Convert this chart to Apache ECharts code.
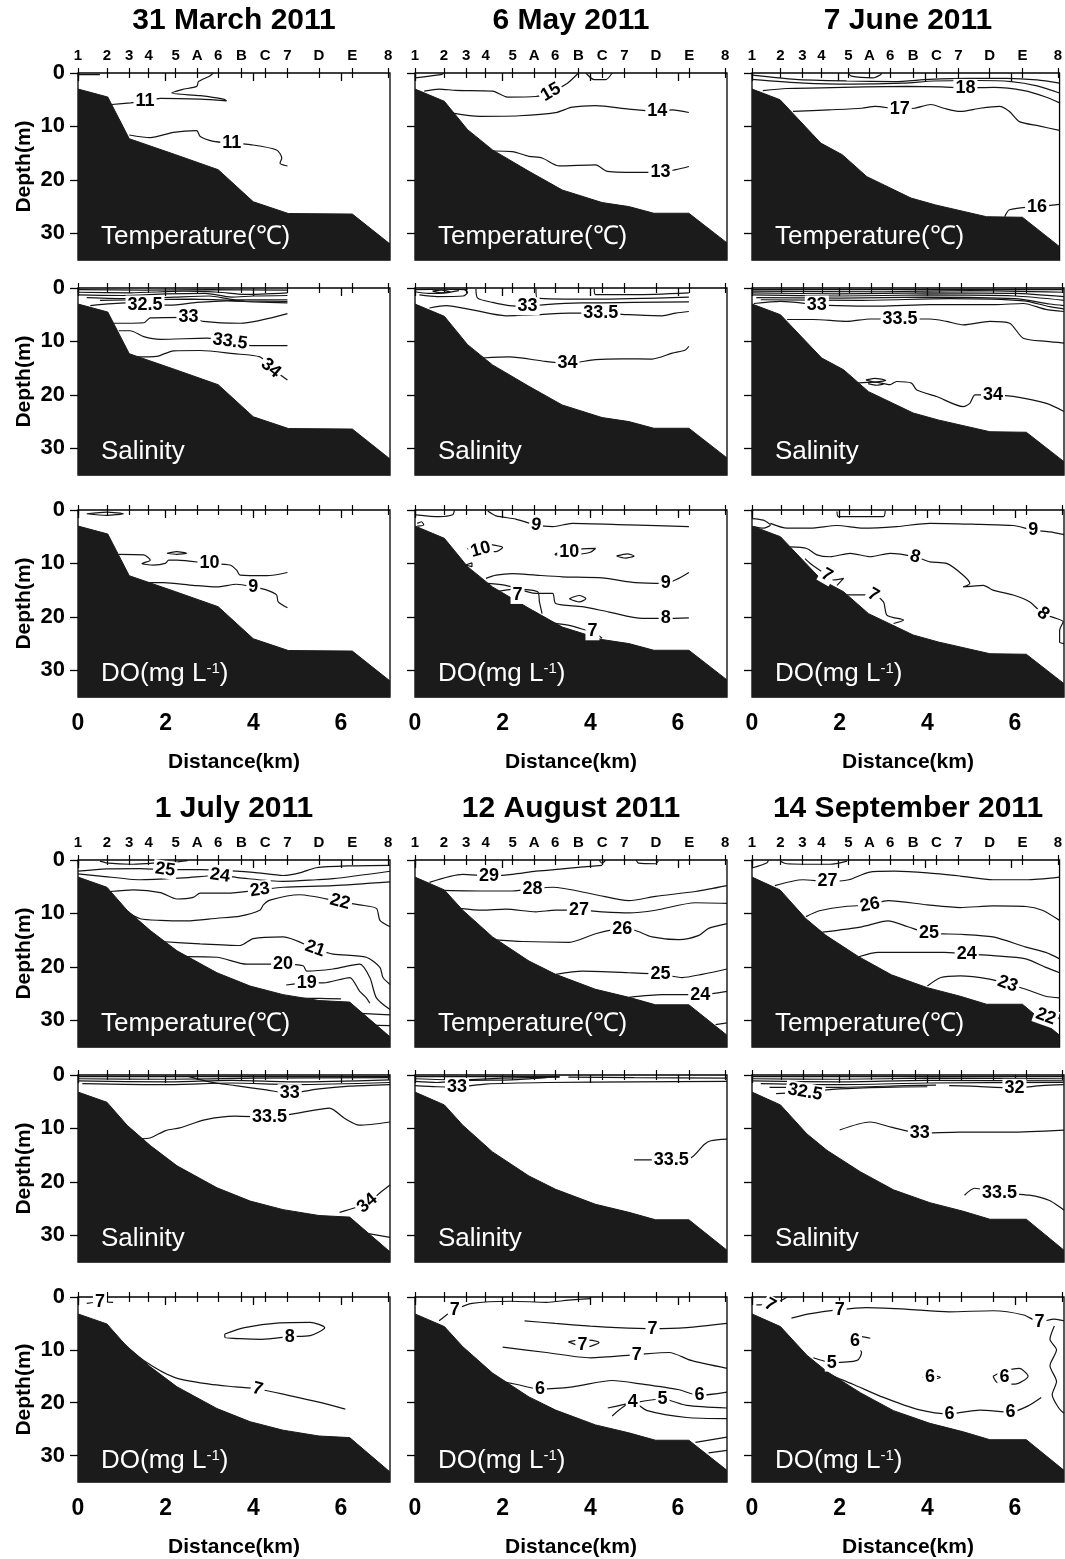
<!DOCTYPE html>
<html>
<head>
<meta charset="utf-8">
<script src="https://cdn.jsdelivr.net/npm/echarts@6.0.0/dist/echarts.min.js"></script>
<style>
  html, body { margin: 0; padding: 0; background: #fff; }
  #main { width: 1065px; height: 1559px; }
</style>
</head>
<body>
<div id="main"></div>
<script>
// station names along the transect and their distance (km)
const stationNames = ['1', '2', '3', '4', '5', 'A', '6', 'B', 'C', '7', 'D', 'E', '8'];
const stationKm = [0, 0.66, 1.17, 1.61, 2.23, 2.72, 3.2, 3.73, 4.27, 4.78, 5.5, 6.26, 7.08];
const distTicks = [0, 2, 4, 6];
const depthTicks = [0, 10, 20, 30];
const dates = ['31 March 2011', '6 May 2011', '7 June 2011', '1 July 2011', '12 August 2011', '14 September 2011'];

// bottom profile (km, depth m) for each survey
const bottomMar = [[0, 3.0], [0.68, 4.5], [1.17, 12.3], [2.23, 15.3], [3.2, 18.1], [4.0, 24.1], [4.8, 26.3], [6.26, 26.4], [7.12, 32]];
const bottomMay = [[0, 3.0], [0.67, 5.3], [1.2, 10.6], [1.77, 14.4], [2.6, 18.4], [3.36, 21.9], [4.27, 24.25], [4.88, 25.0], [5.45, 26.25], [6.25, 26.25], [7.12, 31.8]];
const bottomJun = [[0, 3.0], [0.65, 5.0], [1.59, 13.1], [2.09, 15.3], [2.66, 19.4], [3.68, 23.4], [4.25, 24.7], [5.43, 26.9], [6.26, 27.0], [7.12, 32.5]];
const bottomJul = [[0, 3.2], [0.66, 5.1], [1.12, 9.4], [1.65, 13.2], [2.26, 17.0], [3.17, 21.1], [3.93, 23.6], [4.68, 25.2], [5.5, 26.3], [6.2, 26.6], [7.12, 33.1]];
const bottomAug = [[0, 3.2], [0.67, 5.6], [1.09, 9.4], [1.77, 14.4], [2.6, 18.9], [3.21, 21.4], [4.12, 24.2], [4.88, 25.7], [5.49, 27.1], [6.25, 27.1], [7.12, 32.8]];
const bottomSep = [[0, 3.2], [0.65, 5.6], [1.25, 11.0], [1.71, 14.1], [2.47, 18.1], [3.23, 21.5], [4.06, 23.9], [4.82, 25.5], [5.43, 27.0], [6.26, 27.0], [7.12, 32.8]];

// contour lines (km, depth) and labels [km, depth, text, rotation]
const tempMarLines = [
  [[0, 0.3], [0.5, 0.3]],
  [[0.77, 5.9], [1.2, 5.6], [1.53, 5.3], [1.88, 4.75], [2.79, 4.9], [3.39, 5.2], [3.32, 4.9], [2.79, 4.25], [2.14, 3.75], [2.37, 3.1], [2.71, 2.5], [2.75, 1.6], [3.0, 0.6], [3.09, 0]],
  [[1.17, 11.6], [1.65, 12.1], [2.18, 11.1], [2.71, 10.8], [2.79, 11.9], [3.09, 12.8], [3.51, 13.1], [3.93, 13.4], [4.53, 14.4], [4.65, 15.9], [4.61, 16.9], [4.78, 17.4]]
];
const tempMarLabels = [[1.53, 5.3, '11', 0], [3.51, 13.1, '11', 0]];

const tempMayLines = [
  [[0, 0.9], [0.59, 0.3], [0.67, 0]],
  [[0.21, 3.4], [0.55, 3.0], [0.93, 3.25], [1.77, 3.4], [2.11, 4.5], [2.76, 4.4], [3.14, 3.4], [3.48, 1.9], [3.73, 0]],
  [[3.9, 0], [4.09, 1.25], [4.35, 1.25], [4.5, 0]],
  [[0.86, 7.5], [1.47, 8.1], [2.38, 8.0], [3.21, 7.4], [3.59, 6.4], [4.12, 6.1], [4.88, 6.75], [5.53, 7.2], [5.87, 6.9], [6.25, 7.4]],
  [[1.77, 14.6], [2.22, 14.7], [2.6, 15.6], [2.9, 15.9], [3.29, 17.4], [4.12, 17.2], [4.39, 18.4], [5.19, 18.6], [5.6, 18.6], [5.95, 18.1], [6.25, 17.5]]
];
const tempMayLabels = [[3.1, 3.6, '15', 30], [5.53, 7.2, '14', 0], [5.6, 18.6, '13', 0]];

const tempJunLines = [
  [[2.23, 0], [2.3, 0.6], [2.8, 0.9], [2.98, 0.3], [3.0, 0]],
  [[0, 0.4], [1.0, 1.2], [2.2, 1.5], [3.3, 1.6], [4.1, 1.2], [5.0, 1.0], [5.9, 1.0], [6.6, 1.3], [7.12, 1.9]],
  [[0, 1.2], [1.2, 1.9], [2.3, 2.1], [3.5, 1.9], [4.2, 1.5], [5.2, 1.4], [6.0, 1.6], [6.6, 2.4], [7.12, 3.75]],
  [[0.25, 3.3], [0.8, 2.9], [1.6, 2.8], [2.6, 2.6], [3.6, 2.5], [4.4, 2.6], [4.94, 2.8], [5.6, 2.7], [6.3, 3.3], [6.8, 4.5], [7.12, 5.6]],
  [[0.95, 7.2], [1.78, 6.9], [2.54, 6.6], [2.85, 6.25], [3.42, 6.75], [3.76, 6.6], [4.14, 5.9], [4.44, 6.6], [4.82, 7.2], [5.28, 6.6], [5.73, 6.25], [5.96, 7.2], [6.19, 9.1], [6.64, 9.9], [7.12, 10.75]],
  [[5.85, 26.9], [5.96, 25.6], [6.6, 25.0], [7.02, 24.7], [7.12, 24.6]]
];
const tempJunLabels = [[4.94, 2.8, '18', 0], [3.42, 6.75, '17', 0], [6.6, 25.0, '16', 0]];

const salMarLines = [
  [[0, 0.3], [1.5, 0.4], [3.0, 0.3], [4.78, 0.4]],
  [[0, 0.8], [1.2, 0.9], [2.4, 0.6], [3.2, 0.8], [3.8, 1.2], [4.78, 0.9]],
  [[0, 1.3], [1.0, 1.4], [2.0, 1.1], [2.9, 1.0], [3.5, 1.7], [4.0, 1.5], [4.78, 1.4]],
  [[0.2, 1.8], [1.2, 2.0], [2.2, 1.7], [3.0, 1.5], [3.6, 2.2], [4.78, 2.2]],
  [[0.5, 2.3], [1.6, 2.2], [2.6, 2.1], [3.8, 2.4], [4.78, 2.5]],
  [[0.28, 3.3], [1.1, 2.8], [1.53, 3.1], [2.1, 3.2], [2.71, 2.7], [3.4, 2.4], [4.0, 2.6], [4.78, 2.8]],
  [[0.77, 6.6], [1.5, 6.5], [1.65, 5.6], [2.52, 5.5], [2.86, 6.25], [3.7, 6.6], [4.78, 4.8]],
  [[0.93, 8.0], [1.19, 8.0], [1.5, 9.1], [1.88, 9.6], [2.94, 9.4], [3.47, 10.0], [4.0, 10.8], [4.78, 10.8]],
  [[1.34, 12.9], [1.8, 12.8], [2.18, 11.75], [2.79, 11.7], [3.55, 12.3], [4.15, 12.9], [4.46, 15.3], [4.78, 17.2]]
];
const salMarLabels = [[1.53, 3.1, '32.5', 0], [2.52, 5.5, '33', 0], [3.47, 10.0, '33.5', -8], [4.4, 15.0, '34', -40]];

const salMayLines = [
  [[0, 0.3], [0.6, 0.2], [1.2, 0.3]],
  [[0, 0.7], [0.3, 1.0], [0.7, 0.9], [1.0, 0.5]],
  [[0.1, 1.3], [0.5, 1.6], [1.1, 1.5], [1.2, 0.8], [1.1, 0.2]],
  [[0.4, 0.6], [0.6, 0.4], [0.8, 0.7], [0.6, 0.9], [0.4, 0.6]],
  [[1.39, 0.2], [1.43, 1.9], [1.77, 2.7], [2.15, 3.3], [2.57, 3.4], [2.98, 3.1], [3.8, 2.8], [5.0, 2.7], [6.25, 2.6]],
  [[2.76, 0.2], [2.79, 1.9], [4.12, 2.1], [6.25, 1.7]],
  [[4.09, 0.2], [4.12, 1.25], [5.0, 1.25], [6.25, 0.9]],
  [[0.33, 3.75], [0.71, 3.3], [1.31, 4.1], [2.07, 5.2], [2.76, 5.0], [3.52, 4.7], [4.24, 4.7], [4.88, 5.0], [5.64, 5.2], [5.95, 4.7], [6.25, 4.4]],
  [[1.54, 13.1], [2.15, 12.9], [2.98, 13.75], [3.48, 14.1], [4.12, 13.4], [4.73, 13.25], [5.41, 13.3], [5.87, 12.2], [6.17, 11.6], [6.25, 10.9]]
];
const salMayLabels = [[2.57, 3.4, '33', 0], [4.24, 4.7, '33.5', 0], [3.48, 14.1, '34', 0]];

const salJunLines = [
  [[0, 0.3], [7.12, 0.3]],
  [[0, 0.6], [3, 0.7], [5, 0.5], [7.12, 0.8]],
  [[0, 0.9], [2, 1.1], [4, 0.9], [6, 1.0], [7.12, 1.6]],
  [[0, 1.3], [2, 1.5], [4, 1.3], [6, 1.5], [7.12, 2.3]],
  [[0.1, 1.8], [2, 1.9], [4, 1.7], [6, 2.0], [6.8, 3.0], [7.12, 3.3]],
  [[0.2, 2.2], [2.5, 2.3], [4.5, 2.0], [6.2, 2.4], [6.8, 3.5], [7.12, 3.9]],
  [[0.04, 2.9], [0.65, 2.5], [1.48, 3.1], [1.94, 3.3], [2.92, 3.4], [4.06, 3.1], [5.58, 3.1], [6.19, 2.9], [6.7, 4.0], [7.12, 4.4]],
  [[0.8, 5.9], [1.4, 5.9], [2.16, 6.25], [2.7, 5.8], [3.38, 5.8], [4.06, 5.8], [4.44, 6.25], [4.82, 6.9], [5.43, 6.25], [5.88, 6.6], [6.19, 9.4], [6.72, 10.0], [7.12, 10.3]],
  [[2.39, 17.8], [2.8, 17.6], [3.15, 18.1], [3.3, 17.5], [3.64, 17.8], [3.76, 19.1], [4.21, 20.3], [4.82, 22.2], [4.97, 21.6], [5.09, 20.0], [5.5, 20.0], [5.96, 20.3], [6.72, 21.6], [7.12, 23.1]],
  [[2.6, 17.2], [2.8, 16.9], [3.05, 17.3], [2.8, 17.6], [2.6, 17.2]],
  [[2.65, 17.9], [2.85, 18.2], [3.0, 18.0]]
];
const salJunLabels = [[1.48, 3.1, '33', 0], [3.38, 5.8, '33.5', 0], [5.5, 20.0, '34', 0]];

const doMarLines = [
  [[0.2, 0.7], [0.66, 0.4], [1.04, 0.7], [0.66, 1.0], [0.2, 0.7]],
  [[0.93, 8.3], [1.5, 8.4], [1.65, 9.4], [1.46, 10.0], [1.72, 10.3], [1.99, 10.0], [2.07, 9.4], [2.26, 9.4], [3.0, 10.0], [3.47, 10.3], [3.62, 11.25], [3.7, 12.2], [4.31, 12.3], [4.78, 11.7]],
  [[2.03, 8.1], [2.25, 7.8], [2.48, 8.1], [2.25, 8.3], [2.03, 8.1]],
  [[1.5, 13.6], [1.95, 13.6], [2.63, 14.1], [3.17, 14.4], [3.62, 13.9], [4.0, 14.4], [4.31, 15.0], [4.53, 15.9], [4.57, 17.2], [4.78, 18.3]]
];
const doMarLabels = [[3.0, 10.0, '10', 0], [4.0, 14.4, '9', 0]];

const doMayLines = [
  [[0.02, 0.9], [0.55, 1.25], [0.86, 0.9], [0.9, 0]],
  [[1.66, 0.2], [1.85, 1.1], [2.3, 1.7], [2.76, 2.8], [3.14, 3.1], [3.59, 2.5], [4.88, 2.8], [6.25, 3.1]],
  [[0.05, 2.5], [0.15, 2.2], [0.2, 2.8], [0.05, 3.0]],
  [[1.2, 7.3], [1.31, 6.6], [1.6, 6.4], [2.0, 7.0], [1.85, 7.8], [1.5, 7.8], [1.2, 7.3]],
  [[1.15, 10.3], [1.3, 9.9], [1.3, 10.6], [1.15, 10.3]],
  [[3.2, 8.2], [3.5, 7.5], [4.12, 7.2], [4.0, 7.9], [3.7, 8.3], [3.2, 8.4], [3.2, 8.2]],
  [[4.6, 8.6], [4.85, 8.2], [5.0, 8.6], [4.8, 9.0], [4.6, 8.6]],
  [[1.62, 12.8], [1.85, 12.2], [2.22, 11.9], [2.76, 12.2], [3.36, 12.5], [4.27, 12.7], [5.03, 13.6], [5.72, 13.75], [6.02, 12.8], [6.25, 11.7]],
  [[1.66, 13.75], [2.07, 14.1], [2.76, 15.6], [3.14, 15.6], [3.21, 17.5], [3.82, 18.1], [4.43, 19.1], [5.19, 20.3], [5.72, 20.3], [6.25, 20.2]],
  [[1.85, 15.3], [2.26, 14.8], [2.8, 15.3], [2.84, 17.2], [2.9, 19.4]],
  [[2.9, 20.9], [3.52, 21.6], [3.9, 22.5], [4.12, 23.1], [4.27, 24.0]],
  [[3.52, 16.6], [3.75, 16.0], [3.9, 16.6], [3.75, 17.2], [3.52, 16.6]]
];
const doMayLabels = [[1.5, 7.4, '10', 15], [3.52, 7.8, '10', 0], [2.76, 2.8, '9', -10], [5.72, 13.75, '9', 0], [5.72, 20.3, '8', 0], [2.34, 15.9, '7', 0], [4.05, 22.7, '7', 0]];

const doJunLines = [
  [[1.94, 0.3], [1.97, 1.25], [3.0, 1.25], [3.04, 0.2]],
  [[0, 1.6], [0.26, 1.9], [0.42, 2.8], [0.26, 3.4], [0.04, 3.1]],
  [[0.42, 2.5], [0.8, 3.4], [1.33, 3.4], [1.94, 2.9], [2.54, 3.4], [3.3, 3.1], [4.06, 2.5], [5.2, 2.7], [5.96, 2.9], [6.42, 3.75], [6.8, 4.1], [7.12, 4.6]],
  [[0.87, 6.9], [1.25, 7.2], [1.48, 8.4], [1.78, 8.75], [2.24, 8.1], [2.7, 8.75], [3.15, 8.1], [3.72, 8.75], [4.06, 9.7], [4.44, 10.0], [4.82, 12.2], [4.97, 13.75], [4.82, 14.4], [5.28, 14.1], [5.5, 15.0], [5.96, 15.9], [6.34, 17.2], [6.64, 19.4], [6.95, 20.3], [7.1, 20.9], [7.02, 22.5], [7.02, 24.7], [7.12, 25.0]],
  [[1.21, 9.1], [1.33, 10.0], [1.71, 12.2], [1.86, 13.1], [2.09, 12.8], [1.94, 14.1]],
  [[2.16, 15.9], [2.77, 15.9], [3.0, 17.2], [3.08, 19.7], [3.46, 20.6], [3.23, 21.25]]
];
const doJunLabels = [[6.42, 3.75, '9', 0], [3.72, 8.75, '8', -15], [6.64, 19.4, '8', -40], [1.71, 12.2, '7', -30], [2.77, 15.9, '7', -30]];

const tempJulLines = [
  [[0.5, 0.2], [0.7, 0.6], [1.2, 0.8], [1.7, 0.6], [2.2, 0.4], [2.5, 0.1]],
  [[0, 2.1], [0.66, 1.65], [1.42, 1.6], [1.99, 1.8], [2.79, 1.8], [4.0, 2.3], [4.68, 2.9], [5.06, 2.4], [5.44, 1.45], [6.2, 1.1], [7.12, 1.0]],
  [[0, 2.6], [0.51, 3.0], [1.42, 3.7], [2.41, 3.35], [3.24, 2.9], [3.7, 3.35], [4.68, 4.0], [5.44, 3.7], [5.82, 3.5], [7.12, 2.1]],
  [[0.74, 5.9], [1.27, 5.6], [1.88, 6.1], [2.26, 7.3], [2.63, 7.0], [2.79, 6.2], [3.39, 6.2], [4.15, 5.6], [4.68, 5.1], [5.82, 4.8], [7.12, 4.1]],
  [[1.12, 9.7], [1.42, 11.0], [1.88, 11.3], [2.48, 11.4], [3.17, 10.9], [3.7, 10.5], [4.15, 9.4], [4.23, 8.4], [4.38, 7.5], [5.06, 6.5], [5.98, 7.8], [6.43, 8.4], [6.81, 9.05], [6.89, 11.3], [7.12, 12.5]],
  [[1.88, 15.25], [2.79, 15.7], [3.7, 16.0], [4.0, 14.7], [4.68, 14.4], [5.41, 16.6], [5.82, 17.6], [6.58, 18.2], [6.89, 20.1], [6.96, 22.0], [7.12, 23.3]],
  [[2.48, 18.1], [3.17, 18.2], [3.85, 19.5], [4.68, 19.5], [5.14, 19.8], [5.22, 20.8], [5.82, 20.4], [6.43, 19.5], [6.66, 22.0], [6.81, 25.8], [7.12, 28.0]],
  [[4.75, 23.4], [5.22, 23.0], [5.6, 23.0], [6.2, 22.0], [6.43, 24.6], [6.58, 25.8], [6.66, 26.8]],
  [[5.0, 25.9], [5.5, 25.9], [6.0, 26.0]],
  [[6.43, 28.7], [7.12, 29.0]],
  [[6.58, 30.9], [7.12, 31.0]]
];
const tempJulLabels = [[1.99, 1.8, '25', -8], [3.24, 2.9, '24', -8], [4.15, 5.6, '23', 8], [5.98, 7.8, '22', -15], [5.41, 16.6, '21', -20], [4.68, 19.5, '20', 0], [5.22, 23.0, '19', 0]];

const tempAugLines = [
  [[4.2, 0], [4.27, 0.6], [4.35, 0]],
  [[5.05, 0], [5.1, 0.6], [5.5, 0.7], [5.55, 0.2]],
  [[0.33, 4.2], [1.09, 2.7], [1.69, 3.0], [2.22, 2.7], [2.76, 2.1], [3.36, 1.65], [4.27, 1.0]],
  [[0.67, 5.7], [1.47, 5.8], [2.22, 5.8], [2.68, 5.4], [3.14, 5.1], [4.12, 6.5], [4.88, 7.6], [5.49, 6.8], [6.4, 5.9], [7.12, 4.8]],
  [[1.01, 9.05], [1.54, 9.4], [2.07, 9.2], [2.76, 9.7], [3.21, 9.4], [3.74, 9.4], [4.27, 9.7], [4.88, 9.9], [5.49, 9.4], [6.4, 8.0], [7.12, 8.1]],
  [[1.77, 14.9], [2.45, 15.25], [3.52, 15.4], [4.12, 13.8], [4.73, 12.85], [5.03, 13.2], [5.41, 14.4], [6.02, 14.9], [6.48, 14.1], [6.7, 12.8], [7.12, 11.9]],
  [[3.21, 21.4], [3.82, 20.8], [4.88, 21.1], [5.6, 21.4], [6.1, 22.0], [6.55, 21.4], [7.12, 20.4]],
  [[4.88, 25.7], [5.64, 25.2], [6.51, 25.2], [7.12, 24.6]],
  [[6.86, 30.8], [7.12, 30.5]]
];
const tempAugLabels = [[1.69, 3.0, '29', 0], [2.68, 5.4, '28', 0], [3.74, 9.4, '27', 0], [4.73, 12.85, '26', 0], [5.6, 21.4, '25', 0], [6.51, 25.2, '24', 0]];

const tempSepLines = [
  [[0, 1.5], [0.35, 0.5], [0.38, 0]],
  [[0.65, 0.2], [0.8, 0.7], [1.8, 0.8], [2.2, 0.2]],
  [[0.53, 4.8], [1.18, 3.7], [1.75, 4.0], [2.24, 3.7], [2.7, 2.3], [3.3, 2.1], [4.06, 2.4], [4.82, 3.0], [5.58, 3.7], [6.34, 3.7], [7.12, 3.2]],
  [[1.25, 10.6], [1.56, 9.5], [2.16, 8.7], [2.73, 8.4], [3.15, 7.6], [4.06, 8.4], [4.82, 8.9], [5.58, 8.6], [6.34, 8.7], [6.72, 9.4], [7.12, 11.3]],
  [[1.63, 13.5], [2.54, 12.5], [3.15, 11.4], [3.61, 12.5], [4.1, 13.7], [4.82, 13.9], [5.58, 14.4], [6.34, 16.3], [6.8, 17.3], [7.12, 18.5]],
  [[2.47, 18.1], [2.92, 17.3], [3.68, 17.3], [4.44, 17.3], [4.97, 17.6], [5.58, 17.9], [6.34, 18.5], [6.8, 20.1], [7.12, 21.1]],
  [[4.06, 23.6], [4.37, 22.0], [4.82, 21.7], [5.5, 22.3], [5.92, 23.2], [6.34, 24.2], [6.8, 25.5], [7.12, 25.8]],
  [[6.6, 28.4], [6.8, 29.3], [7.12, 29.6]]
];
const tempSepLabels = [[1.75, 4.0, '27', 0], [2.73, 8.4, '26', 10], [4.1, 13.7, '25', 0], [4.97, 17.6, '24', 0], [5.92, 23.2, '23', -20], [6.8, 29.3, '22', -20]];

const salJulLines = [
  [[0, 0.3], [7.12, 0.3]],
  [[0, 0.7], [2, 0.8], [4, 0.6], [7.12, 0.5]],
  [[0, 1.1], [2, 1.3], [3.5, 1.0], [5, 1.3], [7.12, 0.9]],
  [[0.1, 1.6], [2, 1.8], [3.5, 1.5], [5, 1.8], [7.12, 1.4]],
  [[2.5, 0.2], [3.0, 1.3], [3.6, 2.0], [4.3, 2.8], [4.83, 3.4], [5.5, 2.6], [6.2, 2.1], [7.12, 1.8]],
  [[0.84, 12.8], [1.3, 12.0], [1.64, 11.8], [2.0, 10.4], [2.32, 9.9], [2.89, 8.4], [3.58, 7.7], [4.37, 7.9], [5.17, 6.9], [5.74, 6.2], [6.08, 8.1], [6.42, 9.4], [7.12, 8.8]],
  [[5.97, 25.7], [6.6, 24.0], [6.9, 22.0], [7.12, 20.6]],
  [[6.5, 29.5], [7.12, 30.4]]
];
const salJulLabels = [[4.83, 3.4, '33', 0], [4.37, 7.9, '33.5', 0], [6.6, 24.0, '34', 40]];

const salAugLines = [
  [[0, 0.3], [3.3, 0.3]],
  [[0, 0.7], [1, 0.9], [2, 0.6], [3.3, 0.4]],
  [[0, 1.2], [0.5, 1.4], [1.2, 1.0], [2.2, 0.9], [3.0, 0.5]],
  [[3.5, 0.4], [5, 0.5], [7.12, 0.6]],
  [[0, 2.0], [0.5, 2.2], [0.96, 2.25], [1.6, 1.7], [3, 1.4], [5, 1.3], [7.12, 1.2]],
  [[5.0, 15.9], [5.85, 15.9], [6.3, 15.5], [6.6, 13.0], [6.75, 12.3], [7.12, 12.0]]
];
const salAugLabels = [[0.96, 2.25, '33', 0], [5.85, 15.9, '33.5', 0]];

const salSepLines = [
  [[0, 0.3], [7.12, 0.3]],
  [[0, 0.7], [2, 0.8], [4, 0.6], [7.12, 0.7]],
  [[0, 1.1], [2, 1.3], [4, 1.0], [7.12, 1.1]],
  [[0.2, 1.6], [2, 1.8], [4, 1.5], [7.12, 1.4]],
  [[0.4, 2.3], [2, 2.3], [3.5, 2.0], [4.2, 1.9]],
  [[0.55, 3.5], [1.21, 3.2], [2.0, 2.6], [3.0, 2.3], [4.0, 2.2]],
  [[4.5, 2.0], [5.0, 2.1], [5.99, 2.4], [6.6, 2.0], [7.12, 1.8]],
  [[2.0, 10.3], [2.69, 8.8], [3.2, 9.8], [3.83, 10.9], [4.74, 10.7], [5.88, 10.7], [7.12, 10.3]],
  [[4.85, 22.5], [5.08, 21.2], [5.65, 22.1], [6.33, 22.5], [6.79, 23.5], [7.12, 25.3]]
];
const salSepLabels = [[1.21, 3.2, '32.5', -10], [5.99, 2.4, '32', 0], [3.83, 10.9, '33', 0], [5.65, 22.1, '33.5', 0]];

const doJulLines = [
  [[0.2, 1.2], [0.5, 0.9], [0.8, 1.0]],
  [[3.35, 7.0], [3.8, 5.8], [4.6, 4.9], [5.3, 4.8], [5.63, 5.8], [5.3, 7.3], [4.83, 7.5], [4.2, 8.0], [3.35, 7.6], [3.35, 7.0]],
  [[1.0, 8.5], [1.5, 12.0], [2.2, 15.2], [3.0, 16.5], [3.6, 17.0], [4.1, 17.4], [4.8, 18.6], [5.5, 19.9], [6.1, 21.2]]
];
const doJulLabels = [[0.5, 0.9, '7', 0], [4.83, 7.5, '8', 0], [4.1, 17.4, '7', -15]];

const doAugLines = [
  [[0.55, 4.5], [0.75, 3.2], [0.91, 2.4], [1.3, 1.2], [2.2, 0.8], [3.0, 1.0], [3.5, 0.6], [4.0, 0.3]],
  [[2.5, 4.5], [3.2, 5.0], [4.0, 5.5], [4.6, 5.8], [5.42, 6.0], [6.2, 5.8], [7.12, 5.0]],
  [[3.5, 8.5], [3.82, 8.0], [4.2, 8.6], [3.9, 9.5], [3.5, 8.5]],
  [[2.0, 9.5], [3.0, 10.5], [4.0, 11.5], [5.06, 10.9], [5.8, 10.5], [6.3, 12.0], [7.12, 13.5]],
  [[1.7, 15.5], [2.3, 16.5], [2.85, 17.4], [3.6, 17.0], [4.5, 15.8], [5.2, 16.5], [6.0, 17.5], [6.49, 18.6], [7.12, 18.0]],
  [[4.4, 21.0], [5.0, 20.0], [5.65, 19.3], [6.2, 20.5], [7.12, 21.0]],
  [[4.5, 22.5], [4.97, 19.9], [5.3, 21.5], [6.2, 22.8], [7.12, 23.0]],
  [[6.4, 27.5], [7.12, 26.5]],
  [[6.7, 29.5], [7.12, 29.0]]
];
const doAugLabels = [[0.91, 2.4, '7', 0], [5.42, 6.0, '7', 0], [3.82, 9.0, '7', 0], [5.06, 10.9, '7', 0], [2.85, 17.4, '6', 0], [6.49, 18.6, '6', 0], [5.65, 19.3, '5', 0], [4.97, 19.9, '4', 0]];

const doSepLines = [
  [[0.1, 1.5], [0.41, 1.5], [0.7, 0.5], [0.8, 0]],
  [[0.9, 4.0], [1.3, 3.2], [2.0, 2.4], [2.6, 2.0], [3.5, 2.3], [4.5, 2.8], [5.5, 2.6], [6.2, 3.4], [6.56, 4.7], [6.9, 4.2], [7.12, 4.5]],
  [[1.4, 11.5], [1.82, 12.4], [2.4, 12.0], [2.5, 10.5], [2.35, 8.4], [2.5, 7.5], [2.7, 7.8]],
  [[1.7, 14.5], [2.3, 16.5], [3.0, 19.0], [3.8, 21.3], [4.51, 22.1], [5.2, 21.4], [5.9, 21.8], [6.3, 20.6], [6.6, 19.0]],
  [[3.9, 15.2], [4.06, 14.8], [4.3, 15.2], [4.06, 15.7], [3.9, 15.2]],
  [[5.5, 15.0], [5.76, 14.0], [6.1, 13.5], [6.3, 15.0], [6.0, 16.5], [5.6, 16.2], [5.5, 15.0]],
  [[6.9, 5.5], [6.8, 8.0], [6.95, 10.0], [6.8, 13.0], [6.95, 16.0], [6.85, 18.5], [7.0, 21.0], [7.12, 22.0]]
];
const doSepLabels = [[0.41, 1.5, '7', -30], [2.0, 2.4, '7', 0], [6.56, 4.7, '7', 0], [2.35, 8.4, '6', 0], [1.82, 12.4, '5', 0], [4.06, 15.2, '6', 0], [5.76, 15.2, '6', 0], [4.51, 22.1, '6', 0], [5.9, 21.8, '6', 0]];

// panel order: row (0..5), column (0..2)
const panels = [
  { row: 0, col: 0, lines: tempMarLines, labels: tempMarLabels, bottom: bottomMar },
  { row: 0, col: 1, lines: tempMayLines, labels: tempMayLabels, bottom: bottomMay },
  { row: 0, col: 2, lines: tempJunLines, labels: tempJunLabels, bottom: bottomJun },
  { row: 1, col: 0, lines: salMarLines, labels: salMarLabels, bottom: bottomMar },
  { row: 1, col: 1, lines: salMayLines, labels: salMayLabels, bottom: bottomMay },
  { row: 1, col: 2, lines: salJunLines, labels: salJunLabels, bottom: bottomJun },
  { row: 2, col: 0, lines: doMarLines, labels: doMarLabels, bottom: bottomMar },
  { row: 2, col: 1, lines: doMayLines, labels: doMayLabels, bottom: bottomMay },
  { row: 2, col: 2, lines: doJunLines, labels: doJunLabels, bottom: bottomJun },
  { row: 3, col: 0, lines: tempJulLines, labels: tempJulLabels, bottom: bottomJul },
  { row: 3, col: 1, lines: tempAugLines, labels: tempAugLabels, bottom: bottomAug },
  { row: 3, col: 2, lines: tempSepLines, labels: tempSepLabels, bottom: bottomSep },
  { row: 4, col: 0, lines: salJulLines, labels: salJulLabels, bottom: bottomJul },
  { row: 4, col: 1, lines: salAugLines, labels: salAugLabels, bottom: bottomAug },
  { row: 4, col: 2, lines: salSepLines, labels: salSepLabels, bottom: bottomSep },
  { row: 5, col: 0, lines: doJulLines, labels: doJulLabels, bottom: bottomJul },
  { row: 5, col: 1, lines: doAugLines, labels: doAugLabels, bottom: bottomAug },
  { row: 5, col: 2, lines: doSepLines, labels: doSepLabels, bottom: bottomSep }
];

// layout
const colLeft = [78, 415, 752];
const rowTop = [73, 288, 510, 860, 1075, 1297];
const gridW = 312;
const gridH = 187;
const xMax = 7.12;
const yMax = 35;
const FONT = '"Liberation Sans", Arial, Helvetica, sans-serif';
const INK = '#000';
const SEA_BED = '#1b1b1b';

function stationLabel(v) {
  let best = 0;
  for (let k = 1; k < stationKm.length; k++) {
    if (Math.abs(stationKm[k] - v) < Math.abs(stationKm[best] - v)) best = k;
  }
  return stationNames[best];
}

const grids = [], xAxes = [], yAxes = [], series = [], graphics = [];

panels.forEach((p, i) => {
  const bottomRow = p.row === 2 || p.row === 5;
  const stationRow = p.row === 0 || p.row === 3;
  const kind = p.row % 3;

  grids.push({
    left: colLeft[p.col], top: rowTop[p.row], width: gridW, height: gridH,
    show: true, borderColor: INK, borderWidth: 1.3, backgroundColor: 'transparent'
  });

  // bottom distance axis
  xAxes.push({
    gridIndex: i, type: 'value', min: 0, max: xMax, position: 'bottom',
    axisLine: { show: false }, splitLine: { show: false },
    axisTick: { show: true, customValues: distTicks, length: 8, inside: false, lineStyle: { color: INK, width: 1.3 } },
    axisLabel: { show: bottomRow, customValues: distTicks, fontSize: 23, fontWeight: 'bold', color: INK, margin: 15, fontFamily: FONT },
    name: bottomRow ? 'Distance(km)' : '', nameLocation: 'middle', nameGap: 55,
    nameTextStyle: { fontSize: 21, fontWeight: 'bold', color: INK, fontFamily: FONT }
  });
  // top station axis, outer ticks + names
  xAxes.push({
    gridIndex: i, type: 'value', min: 0, max: xMax, position: 'top',
    axisLine: { show: false }, splitLine: { show: false },
    axisTick: { show: true, customValues: stationKm, length: 5, inside: false, lineStyle: { color: INK, width: 1.2 } },
    axisLabel: { show: stationRow, customValues: stationKm, formatter: v => stationLabel(v), fontSize: 15, fontWeight: 'bold', color: INK, margin: 10, fontFamily: FONT }
  });
  // top station axis, inner ticks
  xAxes.push({
    gridIndex: i, type: 'value', min: 0, max: xMax, position: 'top',
    axisLine: { show: false }, splitLine: { show: false },
    axisTick: { show: true, customValues: stationKm, length: 5, inside: true, lineStyle: { color: INK, width: 1.2 } },
    axisLabel: { show: false }
  });

  yAxes.push({
    gridIndex: i, type: 'value', min: 0, max: yMax, inverse: true, position: 'left',
    axisLine: { show: false }, splitLine: { show: false },
    axisTick: { show: true, customValues: depthTicks, length: 8, inside: false, lineStyle: { color: INK, width: 1.3 } },
    axisLabel: { show: p.col === 0, customValues: depthTicks, fontSize: 22, fontWeight: 'bold', color: INK, margin: 13, fontFamily: FONT },
    name: p.col === 0 ? 'Depth(m)' : '', nameLocation: 'middle', nameGap: 43, nameRotate: 90,
    nameTextStyle: { fontSize: 21, fontWeight: 'bold', color: INK, fontFamily: FONT }
  });

  p.lines.forEach(line => {
    series.push({
      type: 'line', xAxisIndex: 3 * i, yAxisIndex: i, data: line,
      symbol: 'none', smooth: 0.25, silent: true, z: 2,
      lineStyle: { color: '#141414', width: 1.2 }
    });
  });

  series.push({
    type: 'line', xAxisIndex: 3 * i, yAxisIndex: i, data: p.bottom,
    symbol: 'none', silent: true, z: 3,
    lineStyle: { color: SEA_BED, width: 1 },
    areaStyle: { color: SEA_BED, opacity: 1, origin: 'end' }
  });

  series.push({
    type: 'scatter', xAxisIndex: 3 * i, yAxisIndex: i, symbolSize: 0, silent: true, z: 4,
    itemStyle: { color: '#fff' },
    data: p.labels.map(l => ({ name: l[2], value: [l[0], l[1]], label: { rotate: l[3] || 0 } })),
    label: {
      show: true, position: 'inside', formatter: '{b}', color: INK, opacity: 1,
      fontSize: 18, fontWeight: 'bold', fontFamily: FONT,
      textBorderWidth: 0, textBorderColor: 'transparent',
      backgroundColor: '#fff', padding: [0, 2]
    }
  });

  // variable name inside the sea-bed area
  const tx = colLeft[p.col] + 23;
  const ty = rowTop[p.row] + gridH - 23;
  if (kind === 2) {
    graphics.push({
      type: 'text', x: tx, y: ty, z: 100, silent: true,
      style: {
        text: 'DO(mg L{sup|-1})', fill: '#fff', fontSize: 26, fontFamily: FONT,
        align: 'left', verticalAlign: 'middle', textAlign: 'left', textVerticalAlign: 'middle',
        rich: { sup: { fontSize: 15, fill: '#fff', fontFamily: FONT, verticalAlign: 'top', padding: [0, 0, 10, 0] } }
      }
    });
  } else {
    graphics.push({
      type: 'text', x: tx, y: ty, z: 100, silent: true,
      style: {
        text: kind === 0 ? 'Temperature(℃)' : 'Salinity', fill: '#fff', fontSize: 26, fontFamily: FONT,
        align: 'left', verticalAlign: 'middle', textAlign: 'left', textVerticalAlign: 'middle'
      }
    });
  }
});

dates.forEach((d, k) => {
  const col = k % 3;
  graphics.push({
    type: 'text', x: colLeft[col] + gridW / 2, y: k < 3 ? 21 : 809, z: 100, silent: true,
    style: {
      text: d, fill: INK, fontSize: 30, fontWeight: 'bold', fontFamily: FONT,
      align: 'center', verticalAlign: 'middle', textAlign: 'center', textVerticalAlign: 'middle'
    }
  });
});

const chart = echarts.init(document.getElementById('main'));
chart.setOption({
  backgroundColor: '#fff',
  animation: false,
  textStyle: { fontFamily: FONT },
  grid: grids,
  xAxis: xAxes,
  yAxis: yAxes,
  series: series,
  graphic: { elements: graphics }
});
</script>
</body>
</html>
